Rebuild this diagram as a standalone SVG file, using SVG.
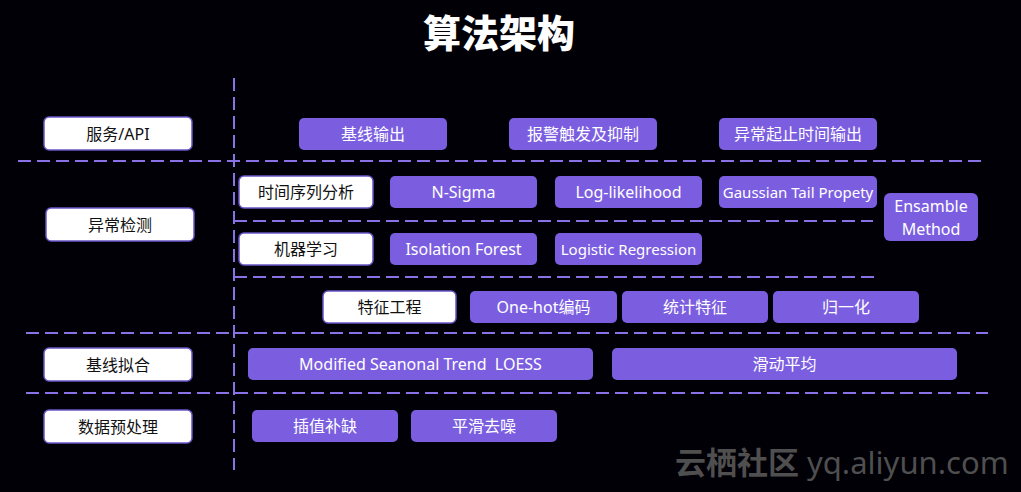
<svg xmlns="http://www.w3.org/2000/svg" width="1021" height="492" viewBox="0 0 1021 492">
<style>
text{font-family:"Noto Sans","Noto Sans CJK SC",sans-serif;dominant-baseline:central;text-anchor:middle}
.w rect{fill:#ffffff;stroke:#6a55c8;stroke-width:1.5}
.w text{fill:#111;font-size:16px}
.p rect{fill:#7b5ee0}
.p text{fill:#ffffff;font-size:16px}
.s text{font-size:15px}
.e{font-size:17px}
.dash{stroke:#8a72e6;stroke-width:2;stroke-dasharray:13 6;fill:none}
.title{fill:#fff;font-size:38px;font-weight:900;font-family:"Noto Sans CJK SC",sans-serif}
.wm{fill:#4f4f4f}
</style>
<rect width="1021" height="492" fill="#010006"/>
<text class="title" x="499" y="30">算法架构</text>

<g id="connectors">
<line class="dash" x1="234" y1="78" x2="234" y2="470"/>
<line class="dash" x1="18" y1="161" x2="982" y2="161"/>
<line class="dash" x1="234" y1="221" x2="873" y2="221"/>
<line class="dash" x1="234" y1="277" x2="880" y2="277"/>
<line class="dash" x1="26" y1="333" x2="988" y2="333"/>
<line class="dash" x1="26" y1="393" x2="988" y2="393"/>
</g>

<g id="n-service" class="w"><rect x="44" y="117" width="148" height="33" rx="5"/><text x="118" y="133.5">服务/API</text></g>
<g id="n-anomaly" class="w"><rect x="46" y="208" width="148" height="33" rx="5"/><text x="120" y="224.5">异常检测</text></g>
<g id="n-baseline" class="w"><rect x="44" y="348" width="148" height="33" rx="5"/><text x="118" y="364.5">基线拟合</text></g>
<g id="n-preprocess" class="w"><rect x="44" y="410" width="148" height="33" rx="5"/><text x="118" y="426.5">数据预处理</text></g>

<g id="n-baseline-out" class="p"><rect x="299" y="118" width="148" height="32" rx="5"/><text x="373" y="134">基线输出</text></g>
<g id="n-alarm" class="p"><rect x="509" y="118" width="148" height="32" rx="5"/><text x="583" y="134">报警触发及抑制</text></g>
<g id="n-anomaly-time" class="p"><rect x="719" y="118" width="158" height="32" rx="5"/><text x="798" y="134">异常起止时间输出</text></g>

<g id="n-timeseries" class="w"><rect x="239" y="176" width="134" height="32" rx="5"/><text x="306" y="192">时间序列分析</text></g>
<g id="n-nsigma" class="p"><rect x="390" y="176" width="147" height="32" rx="5"/><text x="463.5" y="192">N-Sigma</text></g>
<g id="n-loglik" class="p"><rect x="555" y="176" width="147" height="32" rx="5"/><text x="628.5" y="192">Log-likelihood</text></g>
<g id="n-gaussian" class="p s"><rect x="719" y="176" width="158" height="32" rx="5"/><text x="798" y="192">Gaussian Tail Propety</text></g>
<g id="n-ensemble" class="p"><rect x="884" y="193" width="94" height="48" rx="6"/><text class="e" x="931" y="205.5">Ensamble</text><text class="e" x="931" y="228.5">Method</text></g>

<g id="n-ml" class="w"><rect x="239" y="233" width="134" height="32" rx="5"/><text x="306" y="249">机器学习</text></g>
<g id="n-iforest" class="p"><rect x="390" y="233" width="147" height="32" rx="5"/><text x="463.5" y="249">Isolation Forest</text></g>
<g id="n-logistic" class="p s"><rect x="555" y="233" width="147" height="32" rx="5"/><text x="628.5" y="249">Logistic Regression</text></g>

<g id="n-feature" class="w"><rect x="323" y="291" width="133" height="32" rx="5"/><text x="389.5" y="307">特征工程</text></g>
<g id="n-onehot" class="p"><rect x="470" y="291" width="147" height="32" rx="5"/><text x="543.5" y="307">One-hot编码</text></g>
<g id="n-stats" class="p"><rect x="622" y="291" width="146" height="32" rx="5"/><text x="695" y="307">统计特征</text></g>
<g id="n-normalize" class="p"><rect x="773" y="291" width="146" height="32" rx="5"/><text x="846" y="307">归一化</text></g>

<g id="n-stl" class="p"><rect x="248" y="348" width="345" height="32" rx="5"/><text x="420.5" y="364" xml:space="preserve">Modified Seanonal Trend  LOESS</text></g>
<g id="n-moving" class="p"><rect x="612" y="348" width="345" height="32" rx="5"/><text x="784.5" y="364">滑动平均</text></g>

<g id="n-interp" class="p"><rect x="252" y="410" width="146" height="32" rx="5"/><text x="325" y="426">插值补缺</text></g>
<g id="n-smooth" class="p"><rect x="411" y="410" width="146" height="32" rx="5"/><text x="484" y="426">平滑去噪</text></g>

<text class="wm" x="675" y="474" style="text-anchor:start;dominant-baseline:alphabetic;font-size:31px"><tspan style="font-family:'Noto Sans CJK SC',sans-serif;font-weight:700">云栖社区</tspan><tspan dx="8">yq.aliyun.com</tspan></text>
</svg>
